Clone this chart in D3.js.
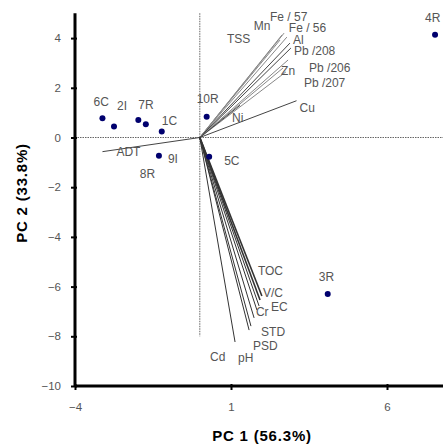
<!DOCTYPE html>
<html>
<head>
<meta charset="utf-8">
<script src="https://cdn.jsdelivr.net/npm/d3@7"></script>
<style>
  html, body { margin: 0; padding: 0; background: #fff; }
  svg { display: block; font-family: "Liberation Sans", Arial, sans-serif; }
</style>
</head>
<body>
<div id="chart"></div>
<script>
// Sample scores (PC1, PC2)
const samples = ["6C", "2I", "7R", "8R", "1C", "9I", "10R", "5C", "3R", "4R"];
const pc1     = [-3.12, -2.75, -1.97, -1.73, -1.22, -1.31, 0.22, 0.30, 4.10, 7.54];
const pc2     = [0.77, 0.44, 0.70, 0.53, 0.24, -0.73, 0.84, -0.77, -6.30, 4.13];

// Variable loadings (vector tips)
const variables = ["TSS", "Mn", "Fe / 57", "Fe / 56", "Al", "Pb /208", "Zn", "Pb /206", "Pb /207",
                   "Cu", "Ni", "ADT", "TOC", "V/C", "EC", "Cr", "STD", "PSD", "pH", "Cd"];
const load1 = [2.57, 2.63, 2.70, 2.79, 2.89, 2.92, 2.67, 2.83, 2.76,
               3.10, 1.29, -3.12, 1.99, 1.93, 1.90, 1.83, 1.74, 1.64, 1.58, 1.13];
const load2 = [3.92, 4.12, 4.20, 4.04, 3.80, 3.60, 2.80, 3.12, 2.64,
               1.48, 1.30, -0.57, -6.38, -6.54, -6.78, -6.94, -7.26, -7.59, -7.75, -8.23];

const xTicks = [-4, 1, 6];
const yTicks = [-10, -8, -6, -4, -2, 0, 2, 4];

// label nudges in px, relative to the point / vector tip
const sampleNudge = {
  "6C": [-9, -12], "2I": [3, -17], "7R": [0, -11], "8R": [-6, 54], "1C": [0, -7],
  "9I": [9, 7], "10R": [-10, -14], "5C": [15, 8], "3R": [-9, -13], "4R": [-10, -13]
};
const varNudge = {
  "TSS": [-53, 3], "Mn": [-28, -5], "Fe / 57": [-14, -12], "Fe / 56": [2, -5], "Al": [3, 1],
  "Pb /208": [3, 7], "Zn": [-2, 7], "Pb /206": [21, 12], "Pb /207": [18, 15], "Cu": [3, 11],
  "Ni": [-8, 17], "ADT": [14, 4], "TOC": [-4, -21], "V/C": [3, -3], "EC": [12, 5],
  "Cr": [-1, 6], "STD": [7, 18], "PSD": [2, 24], "pH": [-11, 32], "Cd": [-25, 19]
};
const upperDark = new Set(["Pb /208", "Al", "Cu", "ADT", "Ni"]);

const W = 443, H = 446;
const svg = d3.select("#chart").append("svg")
  .attr("width", W).attr("height", H);

const x = d3.scaleLinear().domain([-4, 8]).range([75, 449.4]);
const y = d3.scaleLinear().domain([-10, 5]).range([386, 13.25]);

// zero reference lines
svg.append("line")
  .attr("x1", x(-4)).attr("x2", W)
  .attr("y1", y(0)).attr("y2", y(0))
  .attr("stroke", "#666").attr("stroke-width", 1)
  .attr("stroke-dasharray", "1.5 1");

svg.append("line")
  .attr("x1", x(0)).attr("x2", x(0))
  .attr("y1", y(5)).attr("y2", y(-8))
  .attr("stroke", "#666").attr("stroke-width", 1)
  .attr("stroke-dasharray", "1.5 1");

// loading vectors
const vecs = variables.map((v, i) => ({ name: v, a: load1[i], b: load2[i] }));

svg.append("g").selectAll("line")
  .data(vecs)
  .join("line")
    .attr("x1", x(0)).attr("y1", y(0))
    .attr("x2", d => x(d.a)).attr("y2", d => y(d.b))
    .attr("stroke", d => d.b < -5 ? "#333" : (upperDark.has(d.name) ? "#444" : "#888"))
    .attr("stroke-width", d => (d.name === "TOC" || d.name === "V/C") ? 1.6 : 1);

svg.append("g").selectAll("text")
  .data(vecs)
  .join("text")
    .attr("x", d => x(d.a) + varNudge[d.name][0])
    .attr("y", d => y(d.b) + varNudge[d.name][1])
    .attr("font-size", 12)
    .attr("fill", "#555")
    .text(d => d.name);

// axes
const xAxis = svg.append("g")
  .attr("transform", `translate(0,${y(-10)})`)
  .call(d3.axisBottom(x).tickValues(xTicks).tickSize(4).tickFormat(d3.format("d")));
xAxis.select(".domain").attr("d", `M${x(-4)},0H${W}`).attr("stroke", "#000").attr("stroke-width", 3);
xAxis.selectAll(".tick line").attr("y1", -2).attr("stroke-width", 2);
xAxis.selectAll(".tick text").attr("dy", 0).attr("y", 25)
  .attr("font-size", 11.5).attr("fill", "#555").attr("font-family", "Liberation Sans, Arial, sans-serif");

const yAxis = svg.append("g")
  .attr("transform", `translate(${x(-4)},0)`)
  .call(d3.axisLeft(y).tickValues(yTicks).tickSize(4).tickFormat(d3.format("d")));
yAxis.select(".domain").attr("d", `M0,${y(5)}V${y(-10)}`).attr("stroke", "#000").attr("stroke-width", 3);
yAxis.selectAll(".tick line").attr("x1", 2).attr("stroke-width", 2);
yAxis.selectAll(".tick text").attr("x", -14)
  .attr("font-size", 11.5).attr("fill", "#555").attr("font-family", "Liberation Sans, Arial, sans-serif");

// sample points
const pts = samples.map((s, i) => ({ name: s, a: pc1[i], b: pc2[i] }));

svg.append("g").selectAll("circle")
  .data(pts)
  .join("circle")
    .attr("cx", d => x(d.a)).attr("cy", d => y(d.b))
    .attr("r", 3)
    .attr("fill", "#00006e");

svg.append("g").selectAll("text")
  .data(pts)
  .join("text")
    .attr("x", d => x(d.a) + sampleNudge[d.name][0])
    .attr("y", d => y(d.b) + sampleNudge[d.name][1])
    .attr("font-size", 12)
    .attr("fill", "#555")
    .text(d => d.name);

// axis titles
svg.append("text")
  .attr("x", 262).attr("y", 441)
  .attr("text-anchor", "middle")
  .attr("font-size", 15).attr("font-weight", "bold")
  .attr("letter-spacing", 0.8)
  .text("PC 1 (56.3%)");

svg.append("text")
  .attr("transform", "translate(27,193) rotate(-90)")
  .attr("text-anchor", "middle")
  .attr("font-size", 15).attr("font-weight", "bold")
  .attr("letter-spacing", 0.8)
  .text("PC 2 (33.8%)");
</script>
</body>
</html>
